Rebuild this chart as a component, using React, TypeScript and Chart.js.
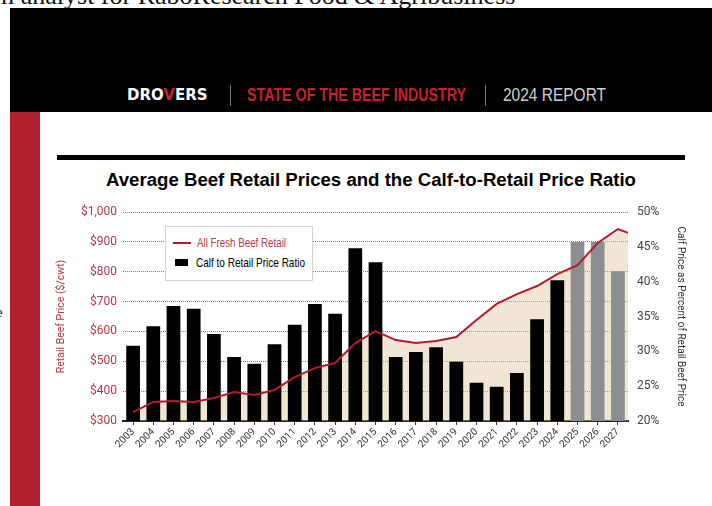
import React, { useEffect, useLayoutEffect, useRef } from "react";
import { Chart, registerables } from "chart.js";

Chart.register(...registerables);

const years = ["2003","2004","2005","2006","2007","2008","2009","2010","2011","2012","2013","2014","2015","2016","2017","2018","2019","2020","2021","2022","2023","2024","2025","2026","2027"];
const retailPrice = [330, 364, 367, 364, 377, 397, 387, 404, 447, 477, 494, 561, 601, 571, 561, 568, 581, 638, 692, 725, 752, 792, 822, 896, 943];
const retailPriceAtRightEdge = 930;
const calfRatio = [30.8, 33.6, 36.5, 36.1, 32.5, 29.2, 28.2, 31.0, 33.8, 36.8, 35.4, 44.8, 42.8, 29.2, 29.9, 30.6, 28.5, 25.5, 24.9, 26.9, 34.6, 40.2, 45.7, 45.7, 41.5];
const forecastFrom = 2025;
const leftTicks = [300, 400, 500, 600, 700, 800, 900, 1000];
const rightTicks = [20, 25, 30, 35, 40, 45, 50];

const CHART_FONT = "Roboto, 'Liberation Sans', sans-serif";
const SANS = "'Liberation Sans', Arial, sans-serif";
const RED = "#b01c2e";
const LABEL_RED = "#b8394a";

function FitText(props: { left: number; top: number; width: number; style: React.CSSProperties; children: React.ReactNode }) {
  const ref = useRef<HTMLSpanElement | null>(null);
  useLayoutEffect(() => {
    const el = ref.current;
    if (!el) return;
    el.style.transform = "none";
    const w = el.getBoundingClientRect().width;
    if (w > 0) el.style.transform = `scaleX(${props.width / w})`;
  }, []);
  return (
    <span
      ref={ref}
      style={{ position: "absolute", left: props.left, top: props.top, whiteSpace: "nowrap", display: "inline-block", transformOrigin: "0 0", ...props.style }}
    >
      {props.children}
    </span>
  );
}

export default function App() {
  const ref = useRef<HTMLCanvasElement | null>(null);

  useEffect(() => {
    document.body.style.margin = "0";
    if (!ref.current) return;
    const lineData = years.map((y, i) => ({ x: Number(y), y: retailPrice[i] }));
    lineData.push({ x: Number(years[years.length - 1]) + 0.5, y: retailPriceAtRightEdge });
    const chart = new Chart(ref.current, {
      type: "bar",
      data: {
        labels: years,
        datasets: [
          {
            type: "line",
            label: "All Fresh Beef Retail",
            data: lineData as any,
            xAxisID: "x2",
            yAxisID: "y",
            borderColor: RED,
            borderWidth: 2,
            pointRadius: 0,
            tension: 0,
            fill: "start",
            backgroundColor: "rgba(222, 196, 152, 0.42)",
            order: 0,
          } as any,
          {
            type: "bar",
            label: "Calf to Retail Price Ratio",
            data: calfRatio,
            xAxisID: "x",
            yAxisID: "y1",
            backgroundColor: years.map((y) => (Number(y) >= forecastFrom ? "#8d8e92" : "#000000")),
            borderWidth: 0,
            grouped: false,
            categoryPercentage: 1,
            barPercentage: 0.68,
            order: 1,
          },
        ],
      },
      options: {
        animation: false,
        responsive: false,
        maintainAspectRatio: false,
        layout: { padding: { top: 17, left: 0, right: 0, bottom: 0 } },
        plugins: {
          legend: { display: false },
          tooltip: { enabled: false },
          filler: { drawTime: "beforeDatasetsDraw" } as any,
        },
        scales: {
          x: {
            type: "category",
            offset: true,
            afterFit: (s: any) => { s.height = 44; },
            grid: { display: true, offset: false, drawOnChartArea: false, drawTicks: true, tickLength: 4, color: "#333", tickColor: "#333" },
            border: { display: true, color: "#222", width: 2 },
            ticks: {
              minRotation: 45,
              maxRotation: 45,
              autoSkip: false,
              padding: 1,
              color: "#333",
              font: { family: CHART_FONT, size: 10 },
            },
          },
          x2: {
            type: "linear",
            position: "bottom",
            display: true,
            offset: false,
            min: Number(years[0]) - 0.5,
            max: Number(years[years.length - 1]) + 0.5,
            afterFit: (s: any) => { s.height = 0; },
            grid: { display: false, offset: false, drawTicks: false },
            border: { display: false },
            ticks: { display: false },
          },
          y: {
            type: "linear",
            position: "left",
            min: leftTicks[0],
            max: leftTicks[leftTicks.length - 1],
            afterFit: (s: any) => { s.width = 83; },
            afterBuildTicks: (s: any) => { s.ticks = leftTicks.map((v) => ({ value: v })); },
            grid: { display: true, drawTicks: false, color: "rgba(85,85,85,0.75)", lineWidth: 1 },
            border: { display: false, dash: [1, 1] },
            ticks: {
              padding: 6,
              color: LABEL_RED,
              font: { family: CHART_FONT, size: 12 },
              callback: (v: any) => "$" + Number(v).toLocaleString("en-US"),
            },
            title: {
              display: true,
              text: "Retail Beef Price ($/cwt)",
              color: LABEL_RED,
              font: { family: CHART_FONT, size: 10.5 },
              padding: { top: 15, bottom: 0 },
            },
          },
          y1: {
            type: "linear",
            position: "right",
            min: rightTicks[0],
            max: rightTicks[rightTicks.length - 1],
            afterFit: (s: any) => { s.width = 84; },
            afterBuildTicks: (s: any) => { s.ticks = rightTicks.map((v) => ({ value: v })); },
            grid: { display: false, drawTicks: false },
            border: { display: false },
            ticks: {
              padding: 9,
              color: "#444",
              font: { family: CHART_FONT, size: 12 },
              callback: (v: any) => v + "%",
            },
            title: {
              display: true,
              text: "Calf Price as Percent of Retail Beef Price",
              color: "#333",
              font: { family: CHART_FONT, size: 10 },
              padding: { top: 26, bottom: 0 },
            },
          },
        },
      } as any,
    });
    return () => chart.destroy();
  }, []);

  const abs = (s: React.CSSProperties): React.CSSProperties => ({ position: "absolute", ...s });

  return (
    <div style={{ position: "relative", width: 712, height: 506, overflow: "hidden", background: "#fff" }}>
      <div style={abs({ left: -6, top: -17, fontFamily: "'Liberation Serif', serif", fontSize: 26, whiteSpace: "nowrap", color: "#111", lineHeight: 1 })}>
        m analyst for RaboResearch Food &amp; Agribusiness
      </div>
      <div style={abs({ left: -4, top: 305, fontFamily: "'Liberation Serif', serif", fontSize: 15, color: "#222", lineHeight: 1 })}>e</div>
      <div style={abs({ left: 10, top: 8, width: 702, height: 104, background: "#000" })} />
      <div style={abs({ left: 127, top: 86, fontFamily: "'DejaVu Sans', sans-serif", fontWeight: 700, fontSize: 15, color: "#fff", whiteSpace: "nowrap", lineHeight: "18px" })}>
        DRO<span style={{ color: "#c4202f" }}>V</span>ERS
      </div>
      <div style={abs({ left: 230, top: 85, width: 1, height: 21, background: "#777" })} />
      <FitText left={247} top={84} width={219} style={{ fontFamily: SANS, fontWeight: 700, fontSize: 19, color: "#c4202f", lineHeight: "22px" }}>
        STATE OF THE BEEF INDUSTRY
      </FitText>
      <div style={abs({ left: 485, top: 85, width: 1, height: 21, background: "#777" })} />
      <FitText left={503} top={84} width={103} style={{ fontFamily: SANS, fontSize: 19, color: "#d0d0d0", lineHeight: "22px" }}>
        2024 REPORT
      </FitText>
      <div style={abs({ left: 10, top: 112, width: 30, height: 394, background: "#b01e2e" })} />
      <div style={abs({ left: 57, top: 155, width: 628, height: 5, background: "#000" })} />
      <FitText left={106} top={170} width={530} style={{ fontFamily: SANS, fontWeight: 700, fontSize: 18, color: "#000", lineHeight: "20px" }}>
        Average Beef Retail Prices and the Calf-to-Retail Price Ratio
      </FitText>
      <div style={abs({ left: 40, top: 195, width: 672, height: 270 })}>
        <canvas ref={ref} width={672} height={270} style={{ display: "block", width: 672, height: 270 }} />
      </div>
      <div style={abs({ left: 165, top: 226, width: 146, height: 53, border: "1px solid #d4d4d4", background: "#fff" })} />
      <div style={abs({ left: 173, top: 242, width: 18, height: 2, background: RED })} />
      <FitText left={197} top={235} width={89} style={{ fontFamily: SANS, fontSize: 13, color: LABEL_RED, lineHeight: "16px" }}>
        All Fresh Beef Retail
      </FitText>
      <div style={abs({ left: 175, top: 259, width: 13, height: 7, background: "#000" })} />
      <FitText left={196} top={255} width={109} style={{ fontFamily: SANS, fontSize: 13, color: "#000", lineHeight: "16px" }}>
        Calf to Retail Price Ratio
      </FitText>
    </div>
  );
}
